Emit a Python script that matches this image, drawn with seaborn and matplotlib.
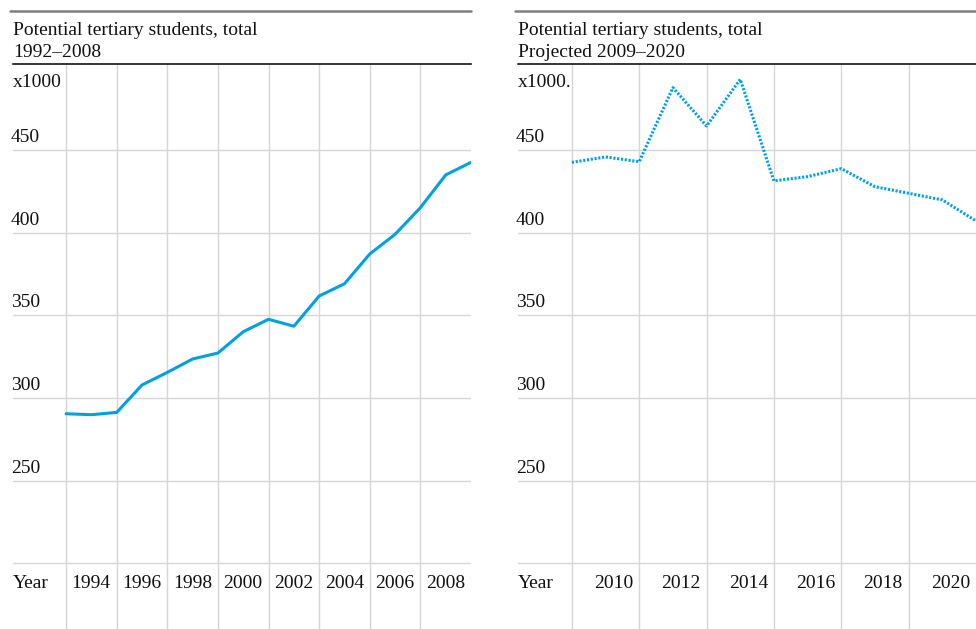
import matplotlib.pyplot as plt
import seaborn as sns
from matplotlib import transforms
from matplotlib.lines import Line2D

# data (students x1000)
years_actual = list(range(1992, 2009))
students_actual = [290.5, 289.9, 291.3, 307.9, 315.5, 323.6, 327.2, 340.1, 347.6,
                   343.4, 361.7, 369.1, 387.1, 399.0, 415.1, 434.9, 442.5]

years_proj = list(range(2008, 2021))
students_proj = [442.5, 445.8, 442.9, 487.7, 464.5, 492.7, 431.3, 433.9, 438.7,
                 427.8, 423.8, 419.8, 407.1]

y_grid = [200, 250, 300, 350, 400, 450]
y_labels = ["250", "300", "350", "400", "450"]

grid_actual = list(range(1992, 2008, 2))
labels_actual = ["1994", "1996", "1998", "2000", "2002", "2004", "2006", "2008"]
grid_proj = list(range(2008, 2020, 2))
labels_proj = ["2010", "2012", "2014", "2016", "2018", "2020"]

BLUE = "#00a0e3"
GRID = "#d6d6d6"
FS = 14
TXT = "#111111"

sns.set_style("white")
plt.rcParams["font.family"] = ["Liberation Serif", "DejaVu Serif"]
plt.rcParams["text.color"] = TXT

W, H = 976, 629
fig = plt.figure(figsize=(W / 100, H / 100), dpi=100)


def px_axes(x0, x1, y0, y1):
    return fig.add_axes([x0 / W, 1 - y1 / H, (x1 - x0) / W, (y1 - y0) / H])


def draw_panel(ax, years, values, xlim, grid_years, tick_labels, title, unit, dotted):
    if dotted:
        sns.lineplot(x=years, y=values, ax=ax, color=BLUE, linewidth=2.2,
                     linestyle=(0, (0.7, 0.55)))
    else:
        sns.lineplot(x=years, y=values, ax=ax, color=BLUE, linewidth=2.2)
    ax.set_xlim(*xlim)
    ax.set_ylim(160.3, 502)
    ax.set_xticks(grid_years)
    ax.set_yticks(y_grid)
    ax.grid(True, color=GRID, linewidth=1.0)
    ax.set_axisbelow(True)
    ax.tick_params(length=0, labelbottom=False, labelleft=False)
    ax.set_xlabel("")
    ax.set_ylabel("")
    for s in ["left", "right", "bottom"]:
        ax.spines[s].set_visible(False)
    ax.spines["top"].set_color("black")
    ax.spines["top"].set_linewidth(1.1)

    # y labels sit just above their gridline, at the left edge
    ymix = transforms.blended_transform_factory(ax.transAxes, ax.transData)
    lab_tr = transforms.offset_copy(ymix, fig=fig, x=-2, y=8, units="dots")
    for lab in y_labels:
        ax.text(0, float(lab), lab, transform=lab_tr, ha="left", va="baseline",
                fontsize=FS)
    ax.text(0, 1, unit, transform=transforms.offset_copy(
        ax.transAxes, fig=fig, x=0, y=-23, units="dots"),
        ha="left", va="baseline", fontsize=FS)

    # x labels right-aligned against the gridline of their year
    x_tr = transforms.offset_copy(ax.transData, fig=fig, x=-6, y=-25, units="dots")
    for lab in tick_labels:
        ax.text(float(lab), y_grid[0], lab, transform=x_tr, ha="right",
                va="baseline", fontsize=FS)
    xmix = transforms.blended_transform_factory(ax.transAxes, ax.transData)
    ax.text(0, y_grid[0], "Year", transform=transforms.offset_copy(
        xmix, fig=fig, x=0, y=-25, units="dots"),
        ha="left", va="baseline", fontsize=FS)

    # title block above the axes
    pos = ax.get_position()
    fig.text(pos.x0, 1 - 35 / H, title[0], ha="left", va="baseline", fontsize=FS)
    fig.text(pos.x0, 1 - 57 / H, title[1], ha="left", va="baseline", fontsize=FS)


ax1 = px_axes(13, 471, 64, 629)
draw_panel(ax1, years_actual, students_actual, (1989.9, 2008), grid_actual,
           labels_actual, ["Potential tertiary students, total", "1992\u20132008"],
           "x1000", dotted=False)

ax2 = px_axes(518, 976, 64, 629)
draw_panel(ax2, years_proj, students_proj, (2006.4, 2020), grid_proj,
           labels_proj, ["Potential tertiary students, total", "Projected 2009\u20132020"],
           "x1000.", dotted=True)

# grey rules at the very top
for x0, x1 in [(10, 471), (515, 976)]:
    fig.add_artist(Line2D([x0 / W, x1 / W], [1 - 11 / H, 1 - 11 / H],
                          color="#7f7f7f", linewidth=1.8, transform=fig.transFigure))

fig.savefig("out.png", dpi=100)
